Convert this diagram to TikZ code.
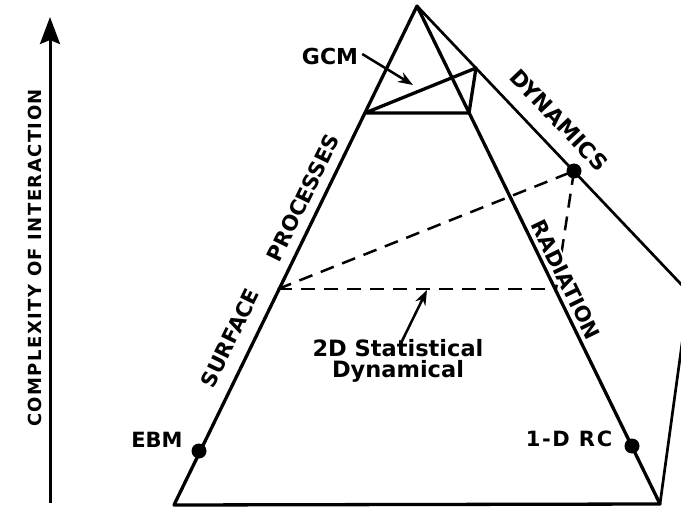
\documentclass[tikz,border=0pt]{standalone}
\usepackage{fontspec}
\newfontfamily\capsfont{DejaVu Sans Bold}
\newfontfamily\widecaps{DejaVu Sans Bold}[LetterSpace=8]
\usetikzlibrary{arrows.meta}
\begin{document}
\begin{tikzpicture}[x=1pt,y=-1pt,
  edge/.style={line width=3.3pt, line join=round, line cap=round},
  thinedge/.style={line width=2.7pt, line join=round, line cap=round},
  dashline/.style={line width=2.5pt, dash pattern=on 14pt off 9pt},
  dot/.style={circle, fill=black, inner sep=0pt, minimum size=15pt},
  lbl/.style={font=\capsfont\fontsize{21}{24}\selectfont, inner sep=1pt},
  pointer/.style={line width=2.5pt, -{Stealth[length=15pt,width=11pt]}}
]
\useasboundingbox (0,0) rectangle (681,508);
\clip (0,0) rectangle (681,508);
% key points
\coordinate (A) at (417,6);
\coordinate (BL) at (174,505);
\coordinate (BR) at (660,504);
\coordinate (RC) at (689,292.6);
\coordinate (P1) at (365,113);
\coordinate (P2) at (469,113);
\coordinate (P3) at (476,68);
\coordinate (L) at (278,289);
\coordinate (Rt) at (556,289);
\coordinate (Dd) at (574,171);
\coordinate (Eb) at (199,451);
\coordinate (Rr) at (632,446);
\coordinate (gcmtip) at (413,85);
\coordinate (stattip) at (427,290);
\coordinate (axb) at (50,503);
\coordinate (axt) at (50,17);

% dashed 2D statistical dynamical triangle
\draw[dashline] (L) -- (Rt);
\draw[dashline] (L) -- (Dd);
\draw[dashline] (Dd) -- (Rt);

% labels
\node[lbl, rotate=90, font=\widecaps\fontsize{18}{22}\selectfont] (cx) at (35,258) {COMPLEXITY OF INTERACTION};
\node[lbl, rotate=64] (surf) at (230,338) {SURFACE};
\node[lbl, rotate=64] (proc) at (303,198) {PROCESSES};
\node[lbl, rotate=-46.5, font=\capsfont\fontsize{22}{24}\selectfont] (dyn) at (559,120) {DYNAMICS};
\node[lbl, rotate=-64, fill=white] (rad) at (566,280) {RADIATION};
\node[lbl, font=\capsfont\fontsize{22}{24}\selectfont] (gcm) at (330,56) {GCM};
\node[lbl] (ebm) at (157,440) {EBM};
\node[lbl, font=\widecaps\fontsize{21}{24}\selectfont] (rc) at (569,439) {1-D RC};
\node[font=\capsfont\fontsize{22.5}{21.5}\selectfont, align=center, inner sep=0pt] (stat) at (398,361) {2D Statistical\\Dynamical};

% main pyramid
\draw[edge] (BL) -- (A) -- (BR) -- cycle;
\draw[thinedge] (A) -- (RC) -- (BR);
% GCM triangle
\draw[edge] (P1) -- (P2) -- (P3) -- cycle;

% dots
\node[dot] (dEbm) at (Eb) {};
\node[dot] (dRc) at (Rr) {};
\node[dot] (dDyn) at (Dd) {};

% pointers
\draw[pointer] ([xshift=3pt,yshift=2pt]gcm.east) -- (gcmtip);
\draw[pointer] ([xshift=4pt,yshift=-2pt]stat.north) -- (stattip);
\draw[line width=3pt, -{Stealth[length=27pt,width=20pt,inset=4pt]}] (axb) -- (axt);
\end{tikzpicture}
\end{document}
